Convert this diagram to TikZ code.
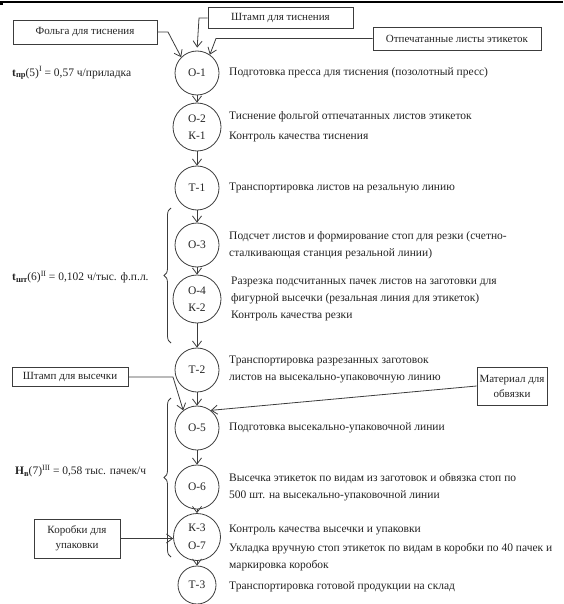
\documentclass[tikz,border=0pt]{standalone}
\usepackage{fontspec}
\setmainfont{Liberation Serif}
\usetikzlibrary{arrows.meta,decorations.pathreplacing}
\definecolor{linec}{RGB}{60,60,60}
\definecolor{txt}{RGB}{35,35,35}
\newcommand{\fs}{\fontsize{11.5}{16.8}\selectfont}
\newcommand{\fb}{\fontsize{11}{15}\selectfont}
\newcommand{\sbs}[1]{\raisebox{-0.35ex}{\fontsize{8.5}{8}\selectfont\bfseries #1}}
\newcommand{\sps}[1]{\raisebox{0.85ex}{\fontsize{8}{8}\selectfont #1}}
\begin{document}
\begin{tikzpicture}[x=1pt,y=-1pt,
  op/.style={circle, draw=linec, line width=0.8pt, minimum size=44pt, inner sep=0pt, font=\fs, text=txt, align=center},
  opd/.style={op, minimum size=48pt},
  srcbox/.style={draw=linec, line width=0.8pt, inner sep=0pt, font=\fb, text=txt, align=center},
  desc/.style={anchor=west, align=left, inner sep=0pt, font=\fs, text=txt},
  flow/.style={draw=linec, line width=0.8pt, -{Straight Barb[length=6pt,width=9pt]}},
  cbrace/.style={draw=linec, line width=0.8pt, decorate, decoration={brace, amplitude=7pt}}
]
\useasboundingbox (0,0) rectangle (563,604);
\draw[line width=1.4pt, black] (0,2) -- (563,2);
\fill[black] (0,2) rectangle (3,5);

% operation circles
\node[op]  (O1) at (197,73)  {О-1};
\node[opd] (O2) at (197,127) {О-2\\[0pt]К-1};
\node[op]  (T1) at (197,188) {Т-1};
\node[op]  (O3) at (197,245) {О-3};
\node[opd] (O4) at (197,299) {О-4\\[0pt]К-2};
\node[op]  (T2) at (197,370) {Т-2};
\node[op]  (O5) at (197,428) {О-5};
\node[op]  (O6) at (197,487) {О-6};
\node[opd, minimum size=47pt] (O7) at (197,537) {К-3\\[1pt]О-7};
\node[op, minimum size=38pt]  (T3) at (197,585) {Т-3};

% flow arrows
\draw[flow] (O1) -- (O2);
\draw[flow] (O2) -- (T1);
\draw[flow] (T1) -- (O3);
\draw[flow] (O3) -- (O4);
\draw[flow] (O4) -- (T2);
\draw[flow] (T2) -- (O5);
\draw[flow] (O5) -- (O6);
\draw[flow] (O6) -- (O7);
\draw[flow] (O7) -- (T3);

% descriptions
\node[desc] (d1) at (229,73) {Подготовка пресса для тиснения (позолотный пресс)};
\node[desc] (d2) at (229,117) {Тиснение фольгой отпечатанных листов этикеток};
\node[desc] (d3) at (229,137) {Контроль качества тиснения};
\node[desc] (d4) at (229,188) {Транспортировка листов на резальную линию};
\node[desc] (d5) at (229,245) {Подсчет листов и формирование стоп для резки (счетно-\\сталкивающая станция резальной линии)};
\node[desc] (d6) at (231,299) {Разрезка подсчитанных пачек листов на заготовки для\\фигурной высечки (резальная линия для этикеток)\\Контроль качества резки};
\node[desc] (d7) at (229,369.5) {Транспортировка разрезанных заготовок\\листов на высекально-упаковочную линию};
\node[desc] (d8) at (229,428) {Подготовка высекально-упаковочной линии};
\node[desc] (d9) at (229,487.5) {Высечка этикеток по видам из заготовок и обвязка стоп по\\500 шт. на высекально-упаковочной линии};
\node[desc] (d10) at (229,530) {Контроль качества высечки и упаковки};
\node[desc] (d11) at (229,557) {Укладка вручную стоп этикеток по видам в коробки по 40 пачек и\\маркировка коробок};
\node[desc] (d12) at (229,587) {Транспортировка готовой продукции на склад};

% source boxes
\node[srcbox, minimum width=144pt, minimum height=24pt] (F) at (85,32) {Фольга для тиснения};
\node[srcbox, minimum width=145pt, minimum height=21pt] (S) at (280.5,18) {Штамп для тиснения};
\node[srcbox, minimum width=168pt, minimum height=23pt] (P) at (457,38.5) {Отпечатанные листы этикеток};
\node[srcbox, minimum width=116pt, minimum height=19pt] (SV) at (70,377) {Штамп для высечки};
\node[srcbox, minimum width=70pt, minimum height=38pt] (M) at (512,386) {Материал для\\обвязки};
\node[srcbox, minimum width=86pt, minimum height=39pt] (K) at (77,538.5) {Коробки для\\упаковки};

\coordinate (f1) at (168,32);
\coordinate (s1) at (199,18);
\coordinate (p1) at (216,38.5);
\coordinate (sv1) at (173,377);
\draw[flow] (F.east) -- (f1) -- (O1.135);
\draw[flow, shorten >=3pt] (S.west) -- (s1) -- (O1.north);
\draw[flow] (P.west) -- (p1) -- (O1.55);
\draw[flow] (SV.east) -- (sv1) -- (O5.128);
\draw[flow] (M.west) -- (O5.52);
\draw[flow] (K.east) -- (K.east -| O7.west);

% braces and norms
\draw[cbrace] (171,343) -- (171,208);
\draw[cbrace] (171,557) -- (171,398);
\node[desc] (n1) at (12,73) {\textbf{t}\sbs{пр}(5)\sps{I} = 0,57 ч/приладка};
\node[desc] (n2) at (12,277) {\textbf{t}\sbs{шт}(6)\sps{II} = 0,102 ч/тыс. ф.п.л.};
\node[desc] (n3) at (15,471) {\textbf{Н}\sbs{в}(7)\sps{III} = 0,58 тыс. пачек/ч};
\end{tikzpicture}
\end{document}
